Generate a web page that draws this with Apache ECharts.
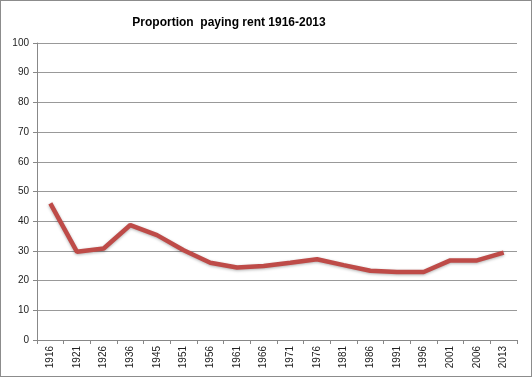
<!DOCTYPE html>
<html>
<head>
<meta charset="utf-8">
<script src="https://cdn.jsdelivr.net/npm/echarts@6/dist/echarts.min.js"></script>
<style>
  html, body { margin: 0; padding: 0; background: #fff; }
  #chart { width: 530px; height: 375px; border: 1px solid #8c8c8c; }
</style>
</head>
<body>
<div id="chart"></div>
<script>
  // years and share of households paying rent (%)
  var years = ['1916', '1921', '1926', '1936', '1945', '1951', '1956', '1961', '1966',
    '1971', '1976', '1981', '1986', '1991', '1996', '2001', '2006', '2013'];
  var rentShare = [46, 29.7, 30.8, 38.7, 35.3, 30.2, 26, 24.4, 24.9,
    26, 27.2, 25.2, 23.3, 22.9, 22.9, 26.8, 26.8, 29.4];

  var chart = echarts.init(document.getElementById('chart'));
  var option = {
    animation: false,
    title: {
      text: 'Proportion  paying rent 1916-2013',
      left: 223,
      textAlign: 'center',
      top: 11,
      textStyle: { fontFamily: 'Liberation Sans', fontSize: 12, fontWeight: 'bold', color: '#000' }
    },
    grid: { left: 36, right: 14, top: 42, bottom: 36 },
    xAxis: {
      type: 'category',
      data: years,
      boundaryGap: true,
      axisLine: { lineStyle: { color: '#888' } },
      axisTick: { show: true, length: 4, lineStyle: { color: '#888' } },
      axisLabel: { rotate: 90, color: '#222', fontSize: 10, fontFamily: 'Liberation Sans', margin: 6 }
    },
    yAxis: {
      type: 'value',
      min: 0,
      max: 100,
      interval: 10,
      axisLine: { show: true, lineStyle: { color: '#888' } },
      axisTick: { show: true, length: 4, lineStyle: { color: '#888' } },
      axisLabel: { color: '#222', fontSize: 10, fontFamily: 'Liberation Sans', margin: 8 },
      splitLine: { lineStyle: { color: '#999' } }
    },
    series: [{
      type: 'line',
      data: rentShare,
      symbol: 'none',
      lineStyle: {
        color: '#BE4B48',
        width: 4.5,
        shadowColor: 'rgba(0,0,0,0.3)',
        shadowBlur: 3,
        shadowOffsetY: 1
      }
    }]
  };
  chart.setOption(option);
</script>
</body>
</html>
